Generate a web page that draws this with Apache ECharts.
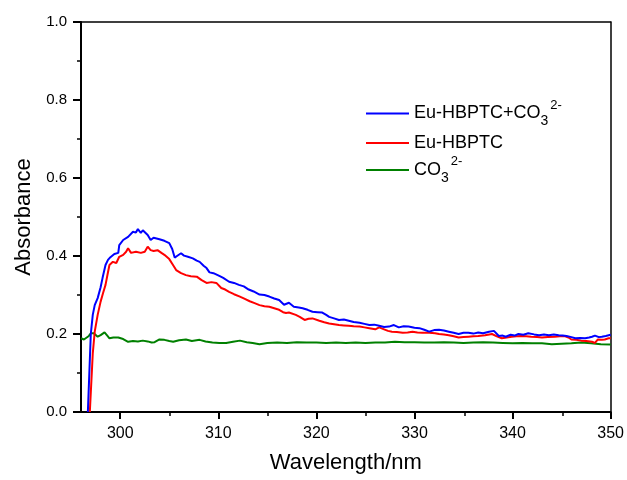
<!DOCTYPE html>
<html><head><meta charset="utf-8">
<script src="https://cdn.jsdelivr.net/npm/echarts@6/dist/echarts.min.js"></script>
<style>html,body{margin:0;padding:0;background:#fff}#c{width:627px;height:480px}</style>
</head><body><div id="c"></div>
<script>
var FONT = 'Liberation Sans, Arial, sans-serif';
var seriesNames = ['Eu-HBPTC+CO3 2-', 'Eu-HBPTC', 'CO3 2-'];
var xMajorTicks = [300, 310, 320, 330, 340, 350];
var xMinorTicks = [305, 315, 325, 335, 345];
var blueX = [296.7,297.0,297.2,297.4,297.7,298.0,298.2,298.5,298.75,299.0,299.4,299.8,299.9,300.3,300.8,301.0,301.3,301.6,301.8,302.1,302.3,302.5,302.8,303.1,303.4,303.6,304.0,304.5,305.0,305.3,305.55,305.9,306.2,306.5,306.9,307.4,307.8,308.1,308.5,308.8,309.1,309.5,310.1,310.5,311.1,311.6,312.1,312.6,313.1,313.6,314.2,314.7,315.2,315.7,316.2,316.7,317.2,317.7,318.2,318.6,319.1,319.6,320.1,320.6,321.0,321.3,321.8,322.3,322.8,323.3,323.8,324.4,324.9,325.4,325.9,326.4,326.9,327.4,327.9,328.4,328.9,329.4,330.0,330.5,331.0,331.5,332.0,332.5,333.0,333.5,334.0,334.5,335.0,335.5,336.0,336.5,337.0,337.6,338.1,338.6,339.0,339.3,339.8,340.2,340.6,341.1,341.6,342.2,342.7,343.2,343.7,344.2,344.7,345.1,345.5,346.0,346.4,346.9,347.4,347.8,348.1,348.4,348.8,349.1,349.5,350.0];
var blueY = [0.0,0.20,0.249,0.274,0.292,0.32,0.344,0.377,0.39,0.397,0.405,0.408,0.428,0.441,0.449,0.452,0.462,0.460,0.469,0.459,0.466,0.462,0.454,0.441,0.447,0.446,0.443,0.439,0.433,0.418,0.396,0.402,0.407,0.401,0.398,0.394,0.388,0.385,0.375,0.369,0.358,0.356,0.349,0.344,0.334,0.331,0.326,0.322,0.314,0.309,0.301,0.300,0.296,0.291,0.287,0.275,0.280,0.270,0.268,0.266,0.262,0.257,0.256,0.255,0.249,0.244,0.240,0.236,0.237,0.234,0.231,0.229,0.226,0.223,0.224,0.221,0.218,0.219,0.223,0.217,0.220,0.219,0.216,0.215,0.211,0.206,0.210,0.211,0.209,0.206,0.203,0.200,0.203,0.203,0.201,0.204,0.202,0.206,0.208,0.195,0.196,0.193,0.198,0.196,0.200,0.198,0.202,0.199,0.197,0.199,0.197,0.199,0.197,0.196,0.195,0.192,0.189,0.190,0.189,0.191,0.193,0.196,0.192,0.193,0.195,0.198];
var redX = [296.9,297.2,297.4,297.7,298.0,298.25,298.5,298.7,298.9,299.25,299.6,299.9,300.3,300.6,300.8,301.1,301.3,301.6,302.1,302.5,302.8,303.1,303.4,303.8,304.2,304.5,305.0,305.3,305.7,306.2,306.7,307.2,307.8,308.3,308.8,309.3,309.8,310.3,310.7,311.1,311.6,312.2,312.7,313.2,313.7,314.2,314.7,315.2,315.7,316.2,316.6,316.9,317.2,317.9,318.3,318.8,319.2,319.6,320.3,320.8,321.3,321.8,322.3,322.8,323.3,323.8,324.4,324.9,325.4,326.0,326.4,326.9,327.3,327.7,328.2,328.8,329.3,329.8,330.3,330.8,331.5,332.1,332.5,333.0,333.5,334.0,334.5,335.0,335.5,336.0,336.5,337.2,337.9,338.4,338.9,339.4,339.9,340.4,340.9,341.4,341.9,342.5,343.0,343.6,344.3,344.8,345.3,345.7,346.0,346.5,347.0,347.5,348.1,348.4,348.7,349.1,349.4,349.8,350.0];
var redY = [0.0,0.15,0.206,0.249,0.283,0.305,0.326,0.352,0.377,0.385,0.382,0.398,0.403,0.411,0.420,0.408,0.412,0.411,0.408,0.411,0.424,0.415,0.413,0.415,0.408,0.403,0.392,0.380,0.364,0.356,0.351,0.348,0.347,0.338,0.331,0.333,0.331,0.318,0.314,0.308,0.302,0.296,0.290,0.284,0.279,0.274,0.271,0.270,0.266,0.262,0.256,0.254,0.255,0.249,0.244,0.236,0.239,0.240,0.234,0.230,0.227,0.225,0.223,0.222,0.221,0.220,0.219,0.217,0.215,0.212,0.217,0.212,0.208,0.206,0.205,0.203,0.204,0.206,0.204,0.203,0.203,0.202,0.200,0.199,0.197,0.194,0.191,0.192,0.193,0.194,0.195,0.197,0.200,0.194,0.189,0.191,0.193,0.194,0.195,0.194,0.193,0.192,0.191,0.192,0.193,0.194,0.195,0.191,0.186,0.185,0.183,0.182,0.180,0.177,0.186,0.185,0.186,0.189,0.189];
var greenX = [296.0,296.3,296.5,296.8,297.0,297.3,297.5,297.7,298.0,298.4,298.7,298.9,299.3,299.8,300.3,300.8,301.3,301.8,302.3,302.8,303.2,303.5,304.0,304.5,305.0,305.4,306.0,306.7,307.3,308.1,308.7,309.4,310.1,310.8,311.5,312.2,312.9,313.5,314.2,315.0,316.0,317.0,318.0,319.0,320.0,321.0,322.0,323.0,324.0,325.0,326.0,327.0,328.0,329.0,330.0,331.0,332.0,333.0,334.0,335.0,336.0,337.0,338.0,339.0,340.0,341.0,342.0,343.0,344.0,345.0,346.0,347.0,348.0,349.0,350.0];
var greenY = [0.189,0.186,0.185,0.195,0.202,0.202,0.197,0.193,0.197,0.204,0.195,0.189,0.191,0.191,0.187,0.180,0.182,0.181,0.183,0.181,0.178,0.179,0.186,0.185,0.182,0.180,0.184,0.186,0.182,0.185,0.181,0.178,0.177,0.177,0.180,0.183,0.179,0.177,0.174,0.177,0.178,0.177,0.179,0.178,0.178,0.177,0.178,0.177,0.178,0.177,0.178,0.178,0.180,0.179,0.179,0.178,0.178,0.179,0.178,0.177,0.178,0.179,0.178,0.177,0.176,0.177,0.176,0.176,0.174,0.175,0.176,0.178,0.176,0.174,0.173];

function pairs(xs, ys) { return xs.map(function (x, i) { return [x, ys[i]]; }); }

var rich = {
  b: {fontSize: 18, fontFamily: FONT, color: '#000', lineHeight: 30},
  sub: {fontSize: 14, fontFamily: FONT, color: '#000', lineHeight: 14, verticalAlign: 'bottom'},
  sup: {fontSize: 13, fontFamily: FONT, color: '#000', lineHeight: 19, verticalAlign: 'top', padding: [0, 0, 0, 2]}
};
var labelsRich = {
  'Eu-HBPTC+CO3 2-': '{b|Eu-HBPTC+CO}{sub|3}{sup|2-}',
  'Eu-HBPTC': '{b|Eu-HBPTC}',
  'CO3 2-': '{b|CO}{sub|3}{sup|2-}'
};
var colors = ['#0000ff', '#ff0000', '#008000'];
var legendTops = [98.5, 134, 155];

var chart = echarts.init(document.getElementById('c'), null, {renderer: 'canvas'});
var grid = {left: 81, right: 15, top: 22, bottom: 68};
chart.setOption({
  animation: false,
  backgroundColor: '#fff',
  grid: [Object.assign({}, grid), Object.assign({}, grid)],
  legend: seriesNames.map(function (n, i) {
    return {
      data: [n], orient: 'vertical', left: 366, top: legendTops[i], padding: 0,
      icon: 'rect', itemWidth: 43, itemHeight: 2, itemGap: 4,
      formatter: function (name) { return labelsRich[name]; },
      textStyle: {rich: rich, fontFamily: FONT, fontSize: 18, color: '#000'}
    };
  }),
  xAxis: [
    {type: 'value', gridIndex: 0, min: 296, max: 350, position: 'bottom',
      name: 'Wavelength/nm', nameLocation: 'middle', nameGap: 40,
      nameTextStyle: {fontSize: 22, fontFamily: FONT, color: '#000'},
      axisLine: {show: true, onZero: false, lineStyle: {color: '#000', width: 2}},
      axisTick: {show: true, length: 7, lineStyle: {color: '#000', width: 2}, customValues: xMajorTicks},
      axisLabel: {fontSize: 16, fontFamily: FONT, color: '#000', margin: 14, customValues: xMajorTicks},
      splitLine: {show: false}},
    {type: 'value', gridIndex: 0, min: 296, max: 350, position: 'top',
      axisLine: {show: true, onZero: false, lineStyle: {color: '#000', width: 1.5}},
      axisTick: {show: false}, axisLabel: {show: false}, splitLine: {show: false}},
    {type: 'value', gridIndex: 1, min: 296, max: 350, position: 'bottom',
      axisLine: {show: false, onZero: false},
      axisTick: {show: true, length: 4, lineStyle: {color: '#000', width: 1.5}, customValues: xMinorTicks},
      axisLabel: {show: false}, splitLine: {show: false}}
  ],
  yAxis: [
    {type: 'value', gridIndex: 0, min: 0, max: 1, interval: 0.2, position: 'left',
      name: 'Absorbance', nameLocation: 'middle', nameGap: 43, nameRotate: 90,
      nameTextStyle: {fontSize: 22, fontFamily: FONT, color: '#000'},
      axisLine: {show: true, onZero: false, lineStyle: {color: '#000', width: 2}},
      axisTick: {show: true, length: 8, lineStyle: {color: '#000', width: 2}},
      minorTick: {show: true, splitNumber: 2, length: 4, lineStyle: {color: '#000', width: 1.5}},
      axisLabel: {fontSize: 15, fontFamily: FONT, color: '#000', margin: 14,
        formatter: function (v) { return v.toFixed(1); }},
      splitLine: {show: false}},
    {type: 'value', gridIndex: 0, min: 0, max: 1, position: 'right',
      axisLine: {show: true, onZero: false, lineStyle: {color: '#000', width: 1.5}},
      axisTick: {show: false}, axisLabel: {show: false}, splitLine: {show: false}},
    {type: 'value', gridIndex: 1, min: 0, max: 1, show: false}
  ],
  series: [
    {name: seriesNames[0], type: 'line', xAxisIndex: 0, yAxisIndex: 0, data: pairs(blueX, blueY),
      showSymbol: false, symbol: 'none', lineStyle: {color: colors[0], width: 2}, itemStyle: {color: colors[0]}, clip: true, z: 4},
    {name: seriesNames[1], type: 'line', xAxisIndex: 0, yAxisIndex: 0, data: pairs(redX, redY),
      showSymbol: false, symbol: 'none', lineStyle: {color: colors[1], width: 2}, itemStyle: {color: colors[1]}, clip: true, z: 3},
    {name: seriesNames[2], type: 'line', xAxisIndex: 0, yAxisIndex: 0, data: pairs(greenX, greenY),
      showSymbol: false, symbol: 'none', lineStyle: {color: colors[2], width: 2}, itemStyle: {color: colors[2]}, clip: true, z: 2}
  ]
});
</script></body></html>
